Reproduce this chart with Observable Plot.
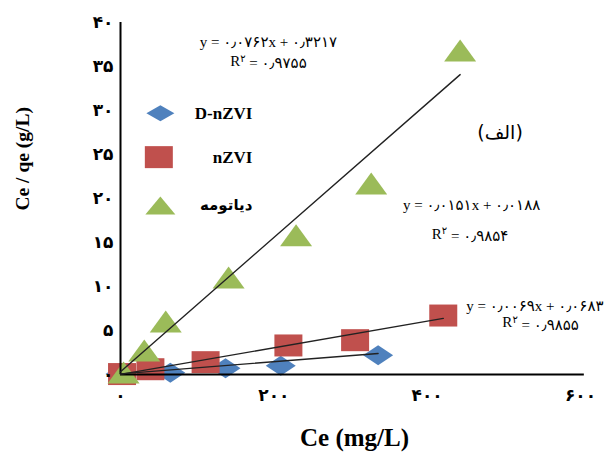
<!DOCTYPE html>
<html><head><meta charset="utf-8">
<script src="https://cdn.jsdelivr.net/npm/d3@7"></script>
<script src="https://cdn.jsdelivr.net/npm/@observablehq/plot@0.6"></script>
<style>body{margin:0;background:#fff}</style>
</head><body><div id="chart"></div>
<script>
// Series: Ce (mg/L) vs Ce/qe (g/L)
const seriesNames = ["D-nZVI", "nZVI", "دیاتومه"];
const seriesColors = ["#4F81BD", "#C0504D", "#9BBB59"];
const dnzviCe   = [0, 65, 137, 209, 336];
const dnzviCeQe = [0.05, 0.2, 0.7, 1.0, 2.2];
const nzviCe    = [2, 39, 111, 219, 306, 421];
const nzviCeQe  = [0.05, 0.6, 1.4, 3.3, 3.9, 6.7];
const diatCe    = [4, 31, 59, 141, 229, 327, 443];
const diatCeQe  = [0.1, 2.6, 5.9, 10.9, 15.7, 21.6, 36.7];
// Trendline coefficients (slope, intercept) as printed
const slopes     = [0.0069, 0.0151, 0.0762];
const intercepts = [0.0683, 0.0188, 0.3217];
const eqTexts = ["y = ۰٫۰۰۶۹x + ۰٫۰۶۸۳", "y = ۰٫۰۱۵۱x + ۰٫۰۱۸۸", "y = ۰٫۰۷۶۲x + ۰٫۳۲۱۷"];
const r2Values = ["۰٫۹۸۵۵", "۰٫۹۸۵۴", "۰٫۹۷۵۵"];
const xTicks = [0, 200, 400, 600];
const yTicks = [0, 5, 10, 15, 20, 25, 30, 35, 40];
const panelLabel = "(الف)";

const fa = d => String(d).replace(/\d/g, c => "۰۱۲۳۴۵۶۷۸۹"[c]);

const diamond = {draw(ctx){ctx.moveTo(0,-10);ctx.lineTo(15,0);ctx.lineTo(0,10);ctx.lineTo(-15,0);ctx.closePath();}};
const square  = {draw(ctx){ctx.moveTo(-14,-11);ctx.lineTo(14,-11);ctx.lineTo(14,11);ctx.lineTo(-14,11);ctx.closePath();}};
const triangle= {draw(ctx){ctx.moveTo(0,-12);ctx.lineTo(16,10);ctx.lineTo(-16,10);ctx.closePath();}};
const legDiamond = {draw(ctx){ctx.moveTo(0,-8);ctx.lineTo(14,0);ctx.lineTo(0,8);ctx.lineTo(-14,0);ctx.closePath();}};
const legSquare  = {draw(ctx){ctx.moveTo(-14,-11);ctx.lineTo(14,-11);ctx.lineTo(14,11);ctx.lineTo(-14,11);ctx.closePath();}};
const legTriangle= {draw(ctx){ctx.moveTo(0,-9);ctx.lineTo(15,9);ctx.lineTo(-15,9);ctx.closePath();}};
const symbols = [diamond, square, triangle];
const legSymbols = [legDiamond, legSquare, legTriangle];

const xs = [dnzviCe, nzviCe, diatCe];
const ys = [dnzviCeQe, nzviCeQe, diatCeQe];
const pts = xs.map((arr, i) => arr.map((x, j) => ({s: i, x, y: ys[i][j]})));
const lines = xs.map((arr, i) => [0, d3.max(arr)].map(x => ({s: i, x, y: slopes[i] * x + intercepts[i]})));

// annotation placements (data units)
const eqPos = [{x: 630, y: 7.8, anchor: "end", r2x: 548, r2y: 5.9},
               {x: 458, y: 19.2, anchor: "middle", r2x: 456, r2y: 16.0},
               {x: 193, y: 37.8, anchor: "middle", r2x: 193, r2y: 35.6}];
const legPos = [{x: 52, y: 29.7}, {x: 50, y: 24.7}, {x: 52, y: 19.2}];

const marks = [];
pts.forEach((p, i) => marks.push(Plot.dot(p, {x: "x", y: "y", symbol: () => symbols[i], r: 1, fill: seriesColors[i], stroke: "none"})));
marks.push(Plot.ruleX([0], {y1: 0, y2: 40, stroke: "black", strokeWidth: 2}));
marks.push(Plot.ruleY([0], {x1: 0, x2: 605, stroke: "black", strokeWidth: 2}));
lines.forEach(l => marks.push(Plot.line(l, {x: "x", y: "y", stroke: "#222", strokeWidth: 1.4})));
marks.push(Plot.axisX(xTicks, {tickSize: 0, tickPadding: 14, tickFormat: fa, fontSize: 17, fontWeight: "bold", fontFamily: "DejaVu Sans", label: null}));
marks.push(Plot.axisY(yTicks, {tickSize: 0, tickPadding: 7, tickFormat: fa, fontSize: 17, fontWeight: "bold", fontFamily: "DejaVu Sans", label: null}));
// equations
eqPos.forEach((p, i) => {
  marks.push(Plot.text([eqTexts[i]], {x: () => p.x, y: () => p.y, textAnchor: p.anchor, fontSize: 15, fontFamily: "Liberation Serif, DejaVu Sans", fill: "black"}));
  marks.push(Plot.text([r2Values[i]], {x: () => p.r2x, y: () => p.r2y, textAnchor: "middle", fontSize: 15, fontFamily: "Liberation Serif, DejaVu Sans", fill: "black",
    text: d => "R۲ = " + d}));
});
// legend
seriesNames.forEach((n, i) => {
  marks.push(Plot.dot([legPos[i]], {x: "x", y: "y", symbol: () => legSymbols[i], r: 1, fill: seriesColors[i]}));
  marks.push(Plot.text([n], {x: () => 172, y: () => legPos[i].y, textAnchor: "end", fontSize: i === 2 ? 15 : 17, fontWeight: "bold", fontFamily: i === 2 ? "DejaVu Sans" : "Liberation Serif", fill: "black"}));
});
marks.push(Plot.text([panelLabel], {x: () => 495, y: () => 27.5, fontSize: 19, fontFamily: "DejaVu Sans", fill: "black"}));
marks.push(Plot.text(["Ce / qe (g/L)"], {frameAnchor: "left", dx: -98, dy: 12, rotate: -90, fontSize: 19.5, fontWeight: "bold", fontFamily: "Liberation Serif", fill: "black"}));
marks.push(Plot.text(["Ce (mg/L)"], {frameAnchor: "bottom", dy: 71, dx: 4, fontSize: 25, fontWeight: "bold", fontFamily: "Liberation Serif", fill: "black"}));

const chart = Plot.plot({
  width: 609, height: 457,
  marginLeft: 120, marginRight: 29, marginTop: 22, marginBottom: 83,
  x: {domain: [0, 600], ticks: xTicks},
  y: {domain: [0, 40], ticks: yTicks},
  style: {background: "white", overflow: "visible"},
  marks
});
// superscript the 2 in R2
d3.select(chart).selectAll("text").each(function() {
  const t = this.textContent;
  if (t.startsWith("R۲ = ")) {
    const el = d3.select(this);
    const rest = t.slice(2);
    el.text("R");
    el.append("tspan").attr("dy", "-0.45em").attr("font-size", "10").text("۲");
    el.append("tspan").attr("dy", "0.45em").text(rest);
  }
});
document.getElementById("chart").appendChild(chart);
</script>
</body></html>
